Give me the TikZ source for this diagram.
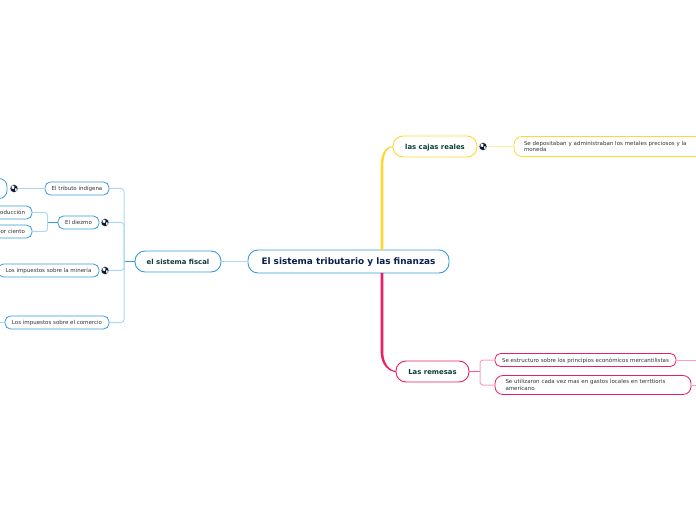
\documentclass[tikz,border=0pt]{standalone}
\usepackage{fontspec}
\setmainfont{DejaVu Sans}
\usepackage{xcolor}
\definecolor{rootblue}{HTML}{3A9BDC}
\definecolor{linkblue}{HTML}{A9D8F5}
\definecolor{cajasyellow}{HTML}{FFD633}
\definecolor{linkyellow}{HTML}{FFEE9E}
\definecolor{remesaspink}{HTML}{E91E63}
\definecolor{linkpink}{HTML}{F7A1BF}
\definecolor{ink}{HTML}{0B1F4B}
\definecolor{inkgreen}{HTML}{0A3D3A}
\definecolor{leafink}{HTML}{333333}
\usetikzlibrary{positioning}
% tronco que se afina: color, inicio, codo, nodo, sentido
\newcommand{\trunkline}[5]{\fill[#1] ([xshift=-1.3pt]#2) -- ([shift={(-1.3,-19*#5)}]#3)
  .. controls ([shift={(-1.3,-7*#5)}]#3) and ([shift={(-7,.6*#5)}]#4) .. ([yshift=.5pt*#5]#4)
  -- ([yshift=-.5pt*#5]#4)
  .. controls ([shift={(-6,-.5*#5)}]#4) and ([shift={(1.3,-8*#5)}]#3) .. ([shift={(1.3,-19*#5)}]#3)
  -- ([xshift=1.3pt]#2) -- cycle;}

\begin{document}
\begin{tikzpicture}[
  x=1pt,y=1pt,
  box/.style={rectangle,rounded corners=10pt,draw=rootblue,fill=white,line width=0.9pt,outer sep=0pt,text depth=0pt,
    text=inkgreen,inner sep=0pt,align=center,font=\fontsize{6.9}{8}\selectfont\bfseries,minimum height=21pt},
  leaf/.style={rectangle,rounded corners=5.5pt,draw=rootblue,fill=white,line width=0.8pt,outer sep=0pt,
    text=leafink,inner sep=0pt,align=center,font=\fontsize{5.5}{6.8}\selectfont,minimum height=13pt},
  globe/.style={circle,draw=white,fill=ink!80!black,inner sep=0pt,minimum size=8pt,outer sep=0pt,
    path picture={\fill[white] (path picture bounding box.north west) ++(1.5,-1) -- ++(3,-.5) -- ++(-.5,-3) -- ++(-2.5,.5) -- cycle;
      \fill[white] (path picture bounding box.south east) ++(-1.5,1.2) -- ++(-1.5,1) -- ++(.5,2.2) -- ++(1.2,-.4) -- cycle;}},
  link/.style={linkblue,line width=1pt,rounded corners=3pt},
  stub/.style={rootblue,line width=1pt}]
  \clip (0,0) rectangle (696,520);
  \node[box,minimum width=201pt,minimum height=23pt,text=ink,font=\fontsize{8.9}{10}\selectfont\bfseries] (root) at (348.5,258.5) {El sistema tributario y las finanzas};
  \node[box,minimum width=86pt,left=27pt of root] (fiscal) {el sistema fiscal};
  \node[box,minimum width=84pt,draw=cajasyellow,above=93pt of root,xshift=86.5pt] (cajas) {las cajas reales};
  \node[box,minimum width=73pt,draw=remesaspink,below=88pt of root,xshift=84pt] (remesas) {Las remesas};
  % ramas de la izquierda
  \node[leaf,text depth=0pt,minimum width=64pt,left=26pt of fiscal,yshift=73pt] (tributo) {El tributo indígena};
  \node[leaf,text depth=0pt,minimum width=41pt,left=36pt of fiscal,yshift=39pt] (diezmo) {El diezmo};
  \node[leaf,text depth=0pt,minimum width=101pt,left=36pt of fiscal,yshift=-9pt] (mineria) {Los impuestos sobre la minería};
  \node[leaf,text depth=0pt,minimum width=104pt,left=26pt of fiscal,yshift=-61pt] (comercio) {Los impuestos sobre el comercio};
  \node[leaf,minimum width=50pt,minimum height=20pt,rounded corners=8pt,left=38pt of tributo] (nota) {};
  \node[leaf,text depth=0pt,minimum width=60pt,left=26pt of diezmo,yshift=10pt,align=right,text width=46pt] (produccion) {producción};
  \node[leaf,text depth=0pt,minimum width=60pt,left=26pt of diezmo,yshift=-9pt,align=right,text width=46pt] (ciento) {por ciento};
  % ramas de la derecha
  \node[leaf,draw=cajasyellow,minimum height=20pt,rounded corners=8pt,text width=190pt,align=left,right=37pt of cajas] (deposito) {\hspace{10pt}Se depositaban y administraban los metales preciosos y la\\\hspace{10pt}moneda};
  \node[leaf,text depth=0pt,draw=remesaspink,minimum width=181pt,right=26pt of remesas,yshift=11.5pt] (estructuro) {Se estructuro sobre los principios económicos mercantilistas};
  \node[leaf,draw=remesaspink,minimum height=19pt,rounded corners=8pt,text width=196pt,align=left,right=26pt of remesas,yshift=-13.5pt] (utilizaron) {\hspace{10.5pt}Se utilizaron cada vez mas en gastos locales en terrttioris\\\hspace{10.5pt}americano};
  % iconos
  \node[globe,right=3pt of nota] (notaglobe) {};
  \node[globe,right=2pt of diezmo] (diezmoglobe) {};
  \node[globe,right=2pt of mineria] (mineriaglobe) {};
  \node[globe,right=2pt of cajas] (cajasglobe) {};
  % puntos de paso
  \coordinate[left=11pt of fiscal] (fiscaljoin);
  \coordinate[left=10.5pt of diezmo] (diezmojoin);
  \coordinate[right=11pt of remesas] (remesasjoin);
  \coordinate (trunkup) at ([xshift=134pt]root.north west);
  \coordinate (trunkdown) at ([xshift=134pt]root.south west);
  \coordinate (cajasbend) at (trunkup |- cajas.west);
  \coordinate (remesasbend) at (trunkdown |- remesas.west);
  \coordinate[left=8pt of comercio] (comercioend);
  \coordinate[right=24pt of estructuro] (estructuroend);
  \coordinate[right=8pt of utilizaron] (utilizaronend);
  % conectores
  \draw[link] (fiscal) -- (root);
  \draw[stub] (fiscal) -- (fiscaljoin);
  \foreach \n in {tributo,diezmoglobe,mineriaglobe,comercio}
    \draw[link] (\n.east) -| (fiscaljoin);
  \draw[link] (notaglobe) -- (tributo);
  \draw[link] (comercio) -- (comercioend);
  \draw[stub] (diezmo) -- (diezmojoin);
  \foreach \n in {produccion,ciento}
    \draw[link] (\n.east) -| (diezmojoin);
  \trunkline{cajasyellow}{trunkup}{cajasbend}{cajas.west}{1}
  \trunkline{remesaspink}{trunkdown}{remesasbend}{remesas.west}{-1}
  \draw[linkyellow,line width=1pt] (cajasglobe) -- (deposito);
  \draw[remesaspink!70,line width=1pt] (remesas) -- (remesasjoin);
  \foreach \n in {estructuro,utilizaron}
    \draw[link,linkpink] (\n.west) -| (remesasjoin);
  \draw[link,linkpink] (estructuro) -- (estructuroend);
  \draw[link,linkpink] (utilizaron) -- (utilizaronend);
\end{tikzpicture}
\end{document}
